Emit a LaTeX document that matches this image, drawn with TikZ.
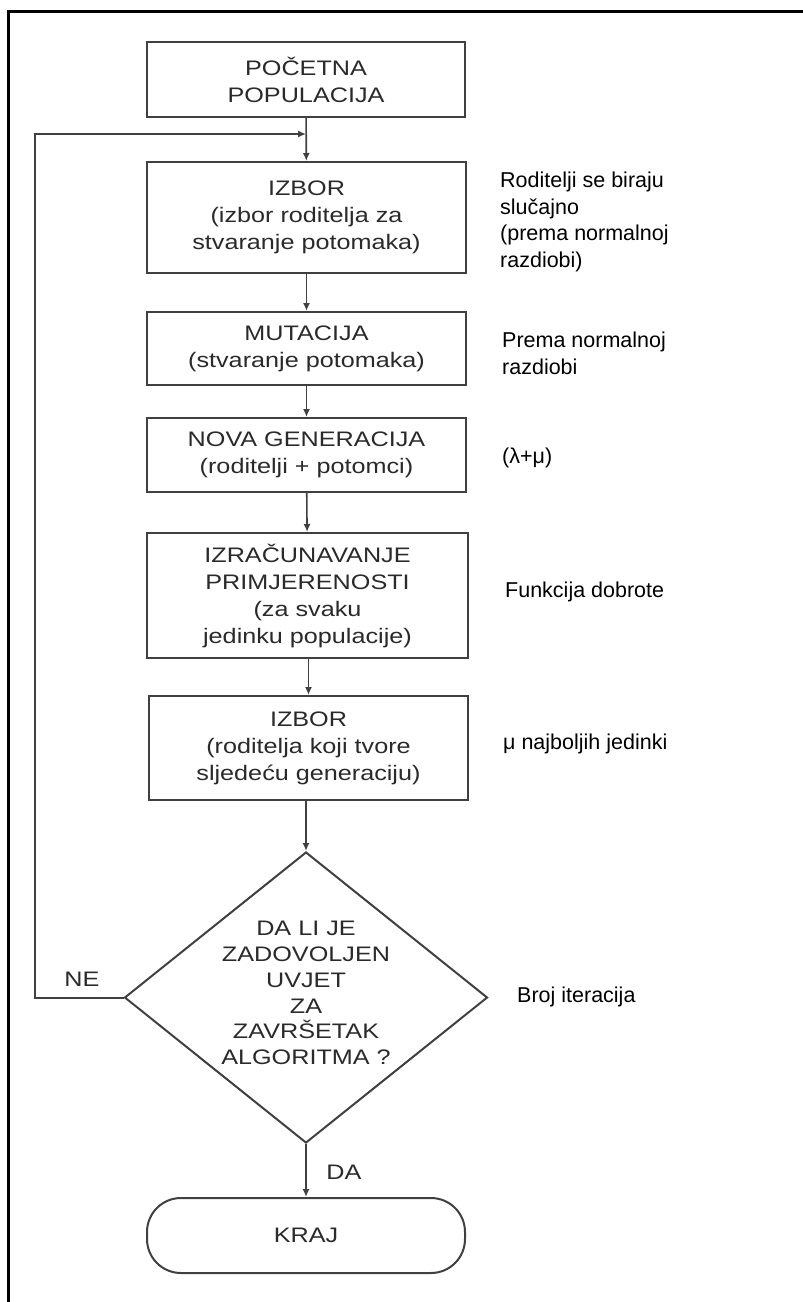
\documentclass[tikz,border=0pt]{standalone}
\usepackage{fontspec}
\usetikzlibrary{shapes.geometric,arrows.meta}
\newfontfamily\boxfont[FakeStretch=1.2]{Liberation Sans}
\newfontfamily\sidefont{Liberation Sans}
\definecolor{ln}{HTML}{404040}
\definecolor{tx}{HTML}{2A2A2A}
\begin{document}
\begin{tikzpicture}[x=1pt,y=-1pt,
  box/.style={draw=ln, line width=2pt, rectangle, inner sep=0pt, align=center,
    text=tx, font=\boxfont\fontsize{21}{27}\selectfont},
  side/.style={anchor=west, align=left, inner sep=0pt,
    font=\sidefont\fontsize{21.5}{26.7}\selectfont},
  arr/.style={draw=ln, line width=1.6pt, -{Latex[length=8pt,width=7pt]}},
  lbl/.style={inner sep=0pt, text=tx, font=\boxfont\fontsize{21}{27}\selectfont}]
\useasboundingbox (0,0) rectangle (803,1302);
\fill[white] (0,0) rectangle (803,1302);
\draw[line width=3pt] (8,1302) -- (8,11) -- (803,11);

\node[box, minimum width=318, minimum height=75] (b1) at (306,79.5) {POČETNA\\POPULACIJA};
\node[box, minimum width=319, minimum height=111] (b2) at (306.5,217.5) {IZBOR\\(izbor roditelja za\\stvaranje potomaka)};
\node[box, minimum width=319, minimum height=73] (b3) at (306.5,348.5) {MUTACIJA\\(stvaranje potomaka)};
\node[box, minimum width=319, minimum height=74] (b4) at (306.5,455) {NOVA GENERACIJA\\(roditelji + potomci)};
\node[box, minimum width=321, minimum height=125] (b5) at (307.5,595.5) {IZRAČUNAVANJE\\PRIMJERENOSTI\\(za svaku\\jedinku populacije)};
\node[box, minimum width=319, minimum height=104] (b6) at (308.5,748) {IZBOR\\(roditelja koji tvore\\sljedeću generaciju)};
\node[draw=ln, line width=2pt, diamond, inner sep=0pt, minimum width=363, minimum height=291] (d) at (306,997.5) {};
\node[lbl, align=center, font=\boxfont\fontsize{21}{25.8}\selectfont] (dt) at (306,993) {DA LI JE\\ZADOVOLJEN\\UVJET\\ZA\\ZAVRŠETAK\\ALGORITMA ?};
\node[box, rounded corners=34pt, minimum width=318, minimum height=75] (k) at (306,1235.5) {KRAJ};

\coordinate (j) at (306,134);
\draw[arr] (b1) -- (b2);
\draw[arr] (b2) -- (b3);
\draw[arr] (b3) -- (b4);
\draw[arr] (b4) -- (b5);
\draw[arr] (b5.south -| b6.north) -- (b6.north);
\draw[arr] (b6.south -| d.north) -- (d.north);
\draw[arr] (d.south) -- (k.north);
\draw[arr, line width=2pt] (d.west) -- (35,997.5) |- (j);

\node[lbl] (ne) at (82,979) {NE};
\node[lbl] (da) at (344,1172) {DA};

\node[side] (s2) at (500,222) {Roditelji se biraju\\slučajno\\(prema normalnoj\\razdiobi)};
\node[side] (s3) at (502,353.5) {Prema normalnoj\\razdiobi};
\node[side] (s4) at (502,458) {(λ+μ)};
\node[side] (s5) at (505,591.5) {Funkcija dobrote};
\node[side] (s6) at (503,744) {μ najboljih jedinki};
\node[side] (s7) at (517,997) {Broj iteracija};
\end{tikzpicture}
\end{document}
